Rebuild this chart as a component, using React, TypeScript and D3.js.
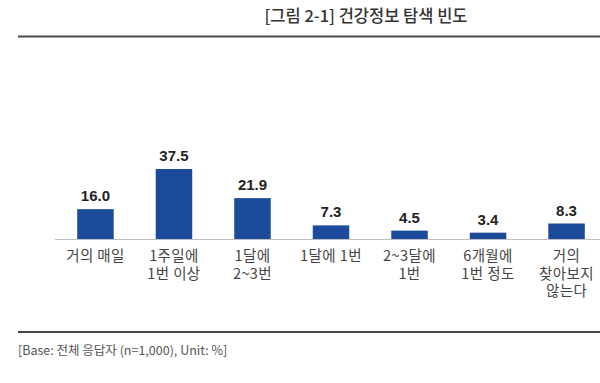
import React from "react";
import * as d3 from "d3";

const categories: string[][] = [
  ["거의 매일"],
  ["1주일에", "1번 이상"],
  ["1달에", "2~3번"],
  ["1달에 1번"],
  ["2~3달에", "1번"],
  ["6개월에", "1번 정도"],
  ["거의", "찾아보지", "않는다"],
];
const values: number[] = [16.0, 37.5, 21.9, 7.3, 4.5, 3.4, 8.3];
const title = "[그림 2-1] 건강정보 탐색 빈도";
const footer = "[Base: 전체 응답자 (n=1,000), Unit: %]";

const W = 600;
const H = 383;
const baseY = 239;
const barColor = "#1d4b9b";
const kr = "'Noto Sans CJK KR', 'Noto Sans', sans-serif";

export default function App() {
  const x = d3
    .scaleBand<number>()
    .domain(values.map((_, i) => i))
    .range([56, 606])
    .paddingInner(0.535)
    .paddingOuter(0.27);
  const y = d3.scaleLinear().domain([0, 37.5]).range([baseY, 169]);

  return (
    <svg
      width={W}
      height={H}
      style={{ position: "absolute", left: 0, top: 0, background: "#fff" }}
    >
      <text
        x={366}
        y={22}
        textAnchor="middle"
        fontFamily={kr}
        fontSize={16.5}
        fontWeight={500}
        fill="#333"
      >
        {title}
      </text>
      <line x1={18} x2={600} y1={36.5} y2={36.5} stroke="#4a4a4a" strokeWidth={2} />

      {values.map((v, i) => {
        const bx = x(i)!;
        return (
          <g key={i}>
            <rect
              x={bx}
              y={y(v)}
              width={x.bandwidth()}
              height={baseY - y(v)}
              fill={barColor}
            />
            <text
              x={bx + x.bandwidth() / 2}
              y={y(v) - 8}
              textAnchor="middle"
              fontFamily="'Liberation Sans', Arial, sans-serif"
              fontWeight="bold"
              fontSize={15}
              fill="#222"
            >
              {v.toFixed(1)}
            </text>
            {categories[i].map((line, j) => (
              <text
                key={j}
                x={bx + x.bandwidth() / 2}
                y={261 + j * 17.5}
                textAnchor="middle"
                fontFamily={kr}
                fontSize={14.5}
                letterSpacing={0.4}
                fill="#444"
              >
                {line}
              </text>
            ))}
          </g>
        );
      })}
      <line x1={55} x2={600} y1={baseY + 0.5} y2={baseY + 0.5} stroke="#bdbdbd" strokeWidth={1.2} />

      <line x1={18} x2={600} y1={332} y2={332} stroke="#4a4a4a" strokeWidth={2} />
      <text x={18} y={355} fontFamily={kr} fontSize={12.5} fill="#555">
        {footer}
      </text>
    </svg>
  );
}
